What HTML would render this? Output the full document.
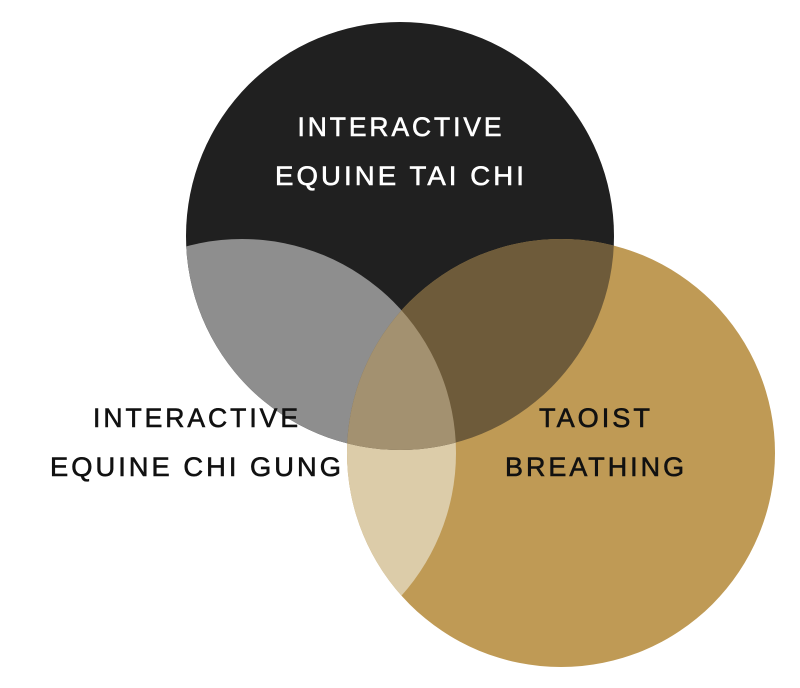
<!DOCTYPE html>
<html><head><meta charset="utf-8"><style>
html,body{margin:0;padding:0;background:#fff;}
svg{display:block;}
text{font-family:"Liberation Sans",sans-serif;font-size:27px;letter-spacing:3px;}
</style></head><body>
<svg width="800" height="688" viewBox="0 0 800 688" xmlns="http://www.w3.org/2000/svg">
<defs>
<clipPath id="cB"><circle cx="400" cy="236" r="214"/></clipPath>
<clipPath id="cG"><circle cx="561" cy="453" r="214"/></clipPath>
<clipPath id="cW"><circle cx="242" cy="453" r="214"/></clipPath>
</defs>
<circle cx="400" cy="236" r="214" fill="#202020"/>
<circle cx="561" cy="453" r="214" fill="#bf9a55"/>
<g clip-path="url(#cW)">
<circle cx="561" cy="453" r="214" fill="#dccca9"/>
<circle cx="400" cy="236" r="214" fill="#8e8e8e"/>
</g>
<g clip-path="url(#cB)">
<circle cx="561" cy="453" r="214" fill="#6e5b3a"/>
<g clip-path="url(#cW)"><circle cx="561" cy="453" r="214" fill="#a39170"/></g>
</g>
<g fill="#fff" stroke="#fff" stroke-width="0.6" text-anchor="middle">
<text x="401" y="136" textLength="207" lengthAdjust="spacingAndGlyphs">INTERACTIVE</text>
<text x="401" y="185" textLength="252" lengthAdjust="spacingAndGlyphs">EQUINE TAI CHI</text>
</g>
<g fill="#111" stroke="#111" stroke-width="0.6" text-anchor="middle">
<text x="197" y="427" textLength="208" lengthAdjust="spacingAndGlyphs">INTERACTIVE</text>
<text x="197" y="476" textLength="294" lengthAdjust="spacingAndGlyphs">EQUINE CHI GUNG</text>
<text x="596" y="427" textLength="114" lengthAdjust="spacingAndGlyphs">TAOIST</text>
<text x="596" y="476" textLength="182" lengthAdjust="spacingAndGlyphs">BREATHING</text>
</g>
</svg>
</body></html>
